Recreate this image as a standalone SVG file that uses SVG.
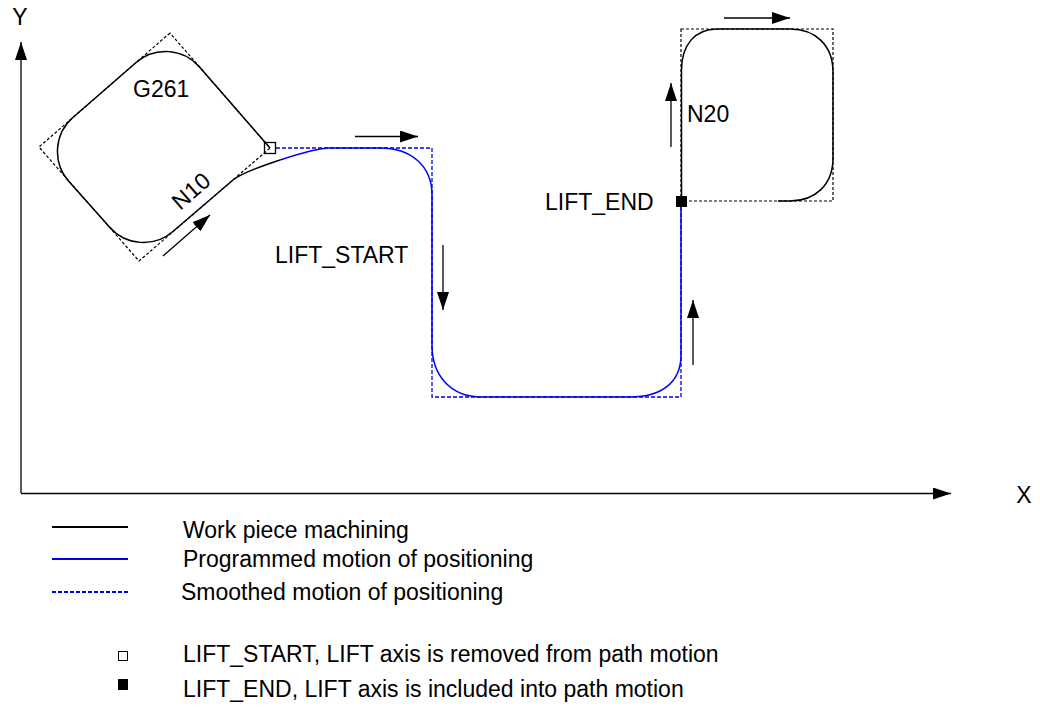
<svg xmlns="http://www.w3.org/2000/svg" width="1040" height="707" viewBox="0 0 1040 707">
<style>
  text { font-family: "Liberation Sans", Arial, sans-serif; font-size: 23px; fill: #000; }
  .solid { fill: none; stroke: #000; stroke-width: 1.5; }
  .blue { fill: none; stroke: #0000ee; stroke-width: 1.5; }
  .bdash { fill: none; stroke: #0000ee; stroke-width: 1.3; stroke-dasharray: 4 2; }
  .kdash { fill: none; stroke: #000; stroke-width: 1.2; stroke-dasharray: 3 2; }
  .arrow { fill: none; stroke: #000; stroke-width: 1.3; marker-end: url(#ah); }
  .axis { fill: none; stroke: #000; stroke-width: 1.3; }
</style>
<defs>
  <marker id="ah" viewBox="0 0 18 12" markerWidth="18" markerHeight="12" refX="18" refY="6" orient="auto" markerUnits="userSpaceOnUse">
    <path d="M0,0 L18,6 L0,12 z" fill="#000"/>
  </marker>
</defs>
<rect width="1040" height="707" fill="#fff"/>

<g id="axes">
  <path class="axis" d="M21,493 L21,42" marker-end="url(#ah)"/>
  <path class="axis" d="M21,493.5 L951,493.5" marker-end="url(#ah)"/>
  <text x="20" y="25" text-anchor="middle">Y</text>
  <text x="1024" y="503" text-anchor="middle">X</text>
</g>

<g id="g261">
  <polygon class="kdash" points="170,33 39,147 139,261 270,148"/>
  <path class="solid" d="M270,148 L199.5,67 C183.2,48.3 154.8,46.2 136.1,62.5 L72.9,117.5 C54.2,133.8 52.2,162.3 68.5,181 L109.5,227 C125.8,245.7 154.2,247.8 172.9,231.5 L233,180 C239,174.8 250,169.9 280,160"/>
  <text x="133" y="97">G261</text>
  <text transform="translate(191,191) rotate(-41)" x="0" y="8" text-anchor="middle">N10</text>
</g>

<g id="positioning">
  <path class="bdash" d="M276,148 L432,148 L432,397 L681,397 L681,207"/>
  <path class="blue" d="M280,160 C300,153.4 318,148 330,148 L380,148 C410,148 432,165 432,195 L432,345 C432,375 450,397 482,397 L630,397 C662,397 681,382 681,355 L681,201"/>
  <text x="275" y="263">LIFT_START</text>
  <text x="545" y="210">LIFT_END</text>
</g>

<g id="n20">
  <rect class="kdash" x="681" y="29" width="152" height="172"/>
  <path class="solid" d="M681.5,201 L681.5,70 C681.5,45 695,29 717,29 L790,29 C815,29 833,45 833,72 L833,158 C833,185 815,201 790,201 L778,201"/>
  <text x="687" y="122">N20</text>
</g>

<g id="markers">
  <rect x="264.5" y="142.5" width="11" height="11" fill="none" stroke="#000" stroke-width="1.3"/>
  <rect x="676" y="196" width="11" height="11" fill="#000"/>
</g>

<g id="connectors">
  <path class="arrow" d="M355,136.5 L418,136.5"/>
  <path class="arrow" d="M163,256 L210,215"/>
  <path class="arrow" d="M443,245 L443,310"/>
  <path class="arrow" d="M693,365 L693,300"/>
  <path class="arrow" d="M671,147 L671,83"/>
  <path class="arrow" d="M724,18 L790,18"/>
</g>

<g id="legend">
  <line x1="52" y1="527" x2="128" y2="527" stroke="#000" stroke-width="2"/>
  <line x1="52" y1="559" x2="128" y2="559" stroke="#0000ee" stroke-width="2"/>
  <line x1="52" y1="592" x2="128" y2="592" stroke="#0000ee" stroke-width="2" stroke-dasharray="4 2"/>
  <text x="183" y="538">Work piece machining</text>
  <text x="183" y="567">Programmed motion of positioning</text>
  <text x="181" y="600">Smoothed motion of positioning</text>
  <rect x="118.5" y="651.5" width="9" height="9" fill="none" stroke="#000" stroke-width="1"/>
  <rect x="118" y="679" width="10" height="11" fill="#000"/>
  <text x="183" y="662">LIFT_START, LIFT axis is removed from path motion</text>
  <text x="183" y="697">LIFT_END, LIFT axis is included into path motion</text>
</g>
</svg>
